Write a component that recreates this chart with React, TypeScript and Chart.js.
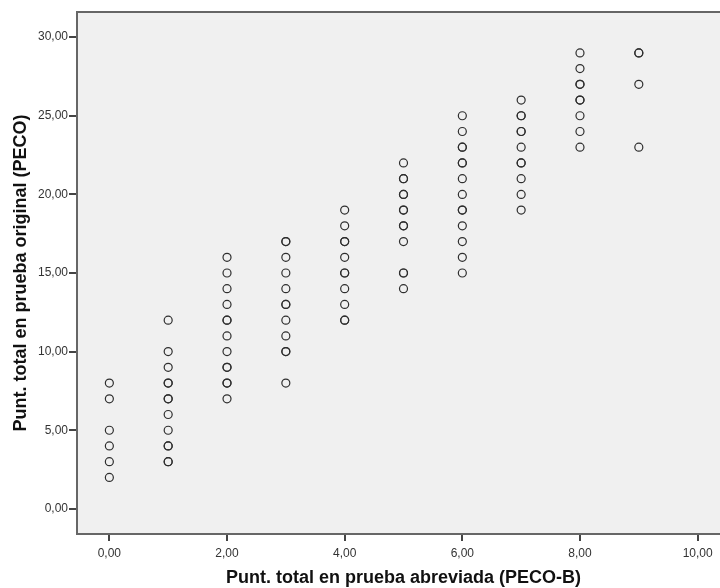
import React, { useEffect, useRef } from "react";
import { Chart, registerables } from "chart.js";

Chart.register(...registerables);

// x categories (PECO-B scores)
const xValues = [0, 1, 2, 3, 4, 5, 6, 7, 8, 9];
// y values (PECO scores) per x value; repeated values are overlapping cases
const yAt0 = [8, 7, 5, 4, 3, 2];
const yAt1 = [12, 10, 9, 8, 8, 7, 7, 6, 5, 4, 4, 3, 3];
const yAt2 = [16, 15, 14, 13, 12, 12, 11, 10, 9, 9, 8, 8, 7];
const yAt3 = [17, 17, 16, 15, 14, 13, 13, 12, 11, 10, 10, 8];
const yAt4 = [19, 18, 17, 17, 16, 15, 15, 14, 13, 12, 12];
const yAt5 = [22, 21, 21, 20, 20, 19, 19, 18, 18, 17, 15, 15, 14];
const yAt6 = [25, 24, 23, 23, 22, 22, 21, 20, 19, 19, 18, 17, 16, 15];
const yAt7 = [26, 25, 25, 24, 24, 23, 22, 22, 21, 20, 19];
const yAt8 = [29, 28, 27, 27, 26, 26, 25, 24, 23];
const yAt9 = [29, 29, 27, 23];
const columns = [yAt0, yAt1, yAt2, yAt3, yAt4, yAt5, yAt6, yAt7, yAt8, yAt9];

const xTicks = [0, 2, 4, 6, 8, 10];
const yTicks = [0, 5, 10, 15, 20, 25, 30];

const xTitle = "Punt. total en prueba abreviada (PECO-B)";
const yTitle = "Punt. total en prueba original (PECO)";

const fmt = (v: number) => Number(v).toFixed(2).replace(".", ",");

const frame = {
  id: "frame",
  beforeDraw(chart: any) {
    const { ctx, chartArea: a } = chart;
    ctx.save();
    ctx.fillStyle = "#f0f0f0";
    ctx.fillRect(a.left, a.top, a.right - a.left, a.bottom - a.top);
    ctx.restore();
  },
  afterDraw(chart: any) {
    const { ctx, chartArea: a } = chart;
    ctx.save();
    ctx.strokeStyle = "#666666";
    ctx.lineWidth = 2;
    ctx.strokeRect(a.left, a.top, a.right - a.left, a.bottom - a.top);
    ctx.restore();
  },
};

export default function App() {
  const ref = useRef<HTMLCanvasElement>(null);
  useEffect(() => {
    if (!ref.current) return;
    const points: { x: number; y: number }[] = [];
    xValues.forEach((x, i) => columns[i].forEach((y) => points.push({ x, y })));
    const tickFont = { family: "'Liberation Sans', Arial, sans-serif", size: 12 };
    const titleFont = { family: "'Liberation Sans', Arial, sans-serif", size: 18, weight: "bold" as const };
    const chart = new Chart(ref.current, {
      type: "scatter",
      data: {
        datasets: [
          {
            data: points,
            pointRadius: 4,
            pointBorderWidth: 1.2,
            pointBackgroundColor: "rgba(0,0,0,0)",
            pointBorderColor: "#2e2e2e",
            pointHoverRadius: 4,
          },
        ],
      },
      options: {
        animation: false,
        responsive: false,
        devicePixelRatio: 1,
        layout: { padding: { top: 12, left: 0, right: 10, bottom: 0 } },
        plugins: { legend: { display: false }, tooltip: { enabled: false } },
        scales: {
          x: {
            type: "linear",
            min: -0.55,
            max: 10.55,
            afterBuildTicks: (s: any) => {
              s.ticks = xTicks.map((v) => ({ value: v }));
            },
            afterFit: (s: any) => {
              s.height = 54;
            },
            ticks: {
              callback: (v: any) => fmt(v),
              font: tickFont,
              color: "#333",
              padding: 5,
              maxRotation: 0,
              autoSkip: false,
            },
            grid: { drawOnChartArea: false, drawTicks: true, tickLength: 7, color: "#444", lineWidth: 2 },
            border: { display: false },
            title: { display: true, text: xTitle, font: titleFont, color: "#111", padding: { top: 0, bottom: -1 } },
          },
          y: {
            type: "linear",
            min: -1.6,
            max: 31.6,
            afterBuildTicks: (s: any) => {
              s.ticks = yTicks.map((v) => ({ value: v }));
            },
            afterFit: (s: any) => {
              s.width = 77;
            },
            ticks: {
              callback: (v: any) => fmt(v),
              font: tickFont,
              color: "#333",
              padding: 1,
              autoSkip: false,
            },
            grid: { drawOnChartArea: false, drawTicks: true, tickLength: 8, color: "#444", lineWidth: 2 },
            border: { display: false },
            title: { display: true, text: yTitle, font: titleFont, color: "#111", padding: { top: 10, bottom: 0 } },
          },
        },
      },
      plugins: [frame],
    });
    return () => chart.destroy();
  }, []);
  return (
    <div style={{ position: "fixed", left: 0, top: 0, width: 720, height: 588, overflow: "hidden", background: "#fff" }}>
      <canvas ref={ref} width={740} height={588} style={{ display: "block", width: 740, height: 588 }} />
    </div>
  );
}
